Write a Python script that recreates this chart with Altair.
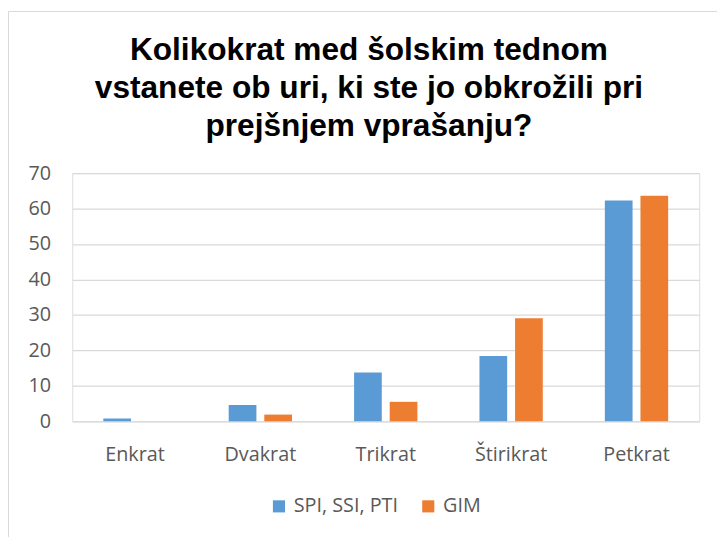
import altair as alt
import pandas as pd

categories = ["Enkrat", "Dvakrat", "Trikrat", "Štirikrat", "Petkrat"]
series_names = ["SPI, SSI, PTI", "GIM"]
spi_values = [0.8, 4.6, 13.8, 18.4, 62.3]
gim_values = [0.0, 1.9, 5.5, 29.1, 63.6]
y_ticks = [0, 10, 20, 30, 40, 50, 60, 70]
title_lines = ["Kolikokrat med šolskim tednom", "vstanete ob uri, ki ste jo obkrožili pri", "prejšnjem vprašanju?"]

rows = []
for c, a, b in zip(categories, spi_values, gim_values):
    rows.append({"kat": c, "serija": series_names[0], "vrednost": a})
    rows.append({"kat": c, "serija": series_names[1], "vrednost": b})
df = pd.DataFrame(rows)

bars = alt.Chart(df).mark_bar().encode(
    x=alt.X("kat:N", sort=categories, title=None,
            scale=alt.Scale(paddingInner=0.495, paddingOuter=0.2475),
            axis=alt.Axis(labelAngle=0, domain=False, ticks=False, labelPadding=24,
                          labelFontSize=20, labelColor="#595959", labelFont="Open Sans")),
    xOffset=alt.XOffset("serija:N", sort=series_names,
                        scale=alt.Scale(paddingInner=0.222, paddingOuter=0)),
    y=alt.Y("vrednost:Q", title=None,
            scale=alt.Scale(domain=[0, 70], nice=False),
            axis=alt.Axis(values=y_ticks, domain=False, ticks=False, labelPadding=22,
                          labelFontSize=20, labelColor="#595959", labelFont="Open Sans",
                          gridColor="#d9d9d9", gridWidth=1.3)),
    color=alt.Color("serija:N", sort=series_names,
                    scale=alt.Scale(domain=series_names, range=["#5B9BD5", "#ED7D31"]),
                    legend=alt.Legend(title=None, orient="none", direction="horizontal",
                                      legendX=199, legendY=327, symbolType="square",
                                      symbolSize=150, symbolStrokeWidth=0, labelFontSize=20,
                                      labelColor="#595959", labelFont="Open Sans",
                                      labelOffset=5, columnPadding=20)),
)

border = alt.Chart(pd.DataFrame({"a": [0]})).mark_rect(
    fillOpacity=0, stroke="#d9d9d9", strokeWidth=1, clip=False
).encode(
    x=alt.value(-64.5), y=alt.value(-163.5), x2=alt.value(900), y2=alt.value(700)
)

title = alt.Chart(pd.DataFrame({"t": ["\n".join(title_lines)]})).mark_text(
    font="Liberation Sans", fontSize=32, fontWeight="bold", color="#000000",
    lineHeight=38, lineBreak="\n", align="center", baseline="alphabetic", clip=False
).encode(
    text="t:N", x=alt.value(300), y=alt.value(-114)
)

chart = alt.layer(border, title, bars).properties(
    width=634, height=251,
    padding={"left": 65, "top": 164, "right": 18, "bottom": 114},
    autosize=alt.AutoSizeParams(type="none"),
).configure_view(stroke=None).configure(background="white")

chart.save("out.html", embed_options={"renderer": "svg", "actions": False})
